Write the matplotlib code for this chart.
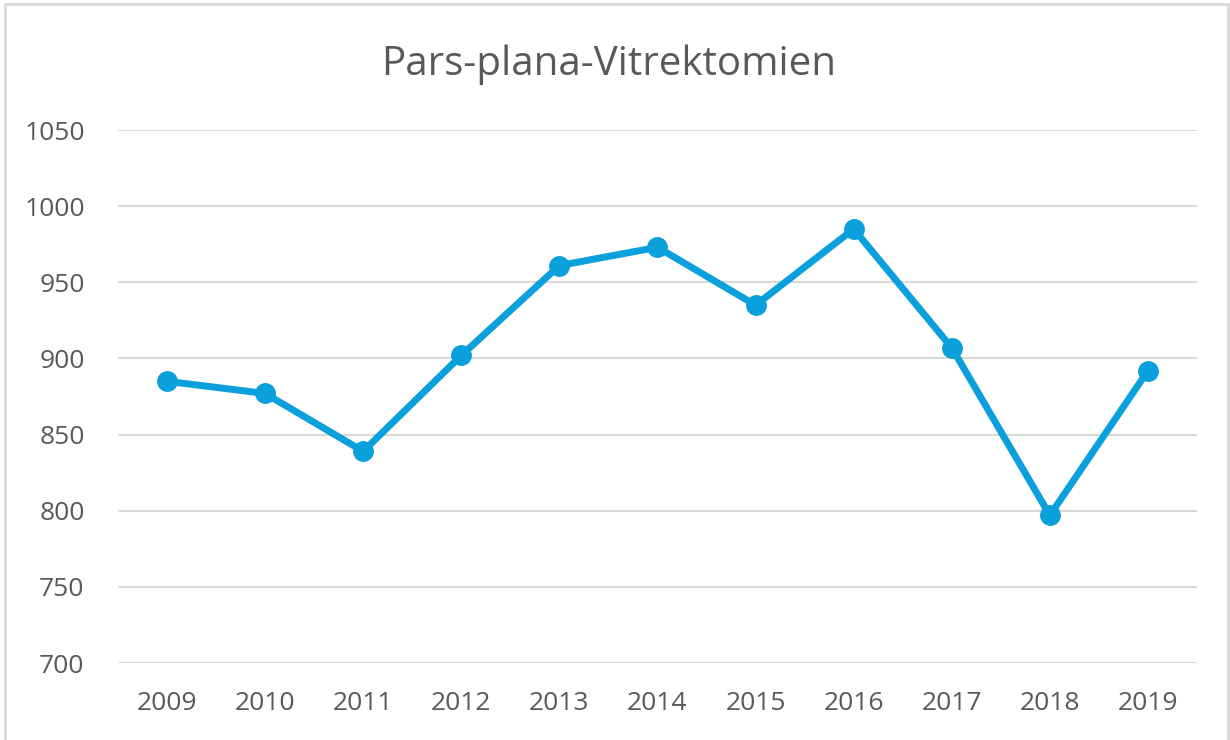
import matplotlib.pyplot as plt
from matplotlib.patches import Rectangle

plt.rcParams['font.family'] = ['Open Sans', 'DejaVu Sans']

years = ['2009', '2010', '2011', '2012', '2013', '2014', '2015', '2016', '2017', '2018', '2019']
counts = [885, 877, 839, 902, 961, 973, 935, 985, 907, 797, 892]
yticks = [700, 750, 800, 850, 900, 950, 1000, 1050]

fig = plt.figure(figsize=(12.3, 7.4), dpi=100)
ax = fig.add_axes([0.0959, 0.104, 0.8773, 0.7203])

x = range(len(years))
ax.plot(x, counts, color='#0AA0DC', lw=5, marker='o', ms=14,
        solid_capstyle='round', solid_joinstyle='round', zorder=3)

ax.set_xlim(-0.5, len(years) - 0.5)
ax.set_ylim(700, 1050)
ax.set_xticks(list(x))
ax.set_xticklabels(years)
ax.set_yticks(yticks)
ax.grid(axis='y', color='#D9D9D9', lw=1.5)
ax.set_axisbelow(True)
for s in ax.spines.values():
    s.set_visible(False)
ax.tick_params(length=0, labelsize=19, labelcolor='#595959')
ax.tick_params(axis='x', pad=20)
ax.tick_params(axis='y', pad=24)
for lab in ax.get_yticklabels():
    lab.set_horizontalalignment('right')

fig.text(0.495, 0.913, 'Pars-plana-Vitrektomien', ha='center', va='center',
         fontsize=29, color='#595959')

fig.patches.append(Rectangle((0.004, -0.05), 0.994, 1.044, transform=fig.transFigure,
                             fill=False, edgecolor='#D9D9D9', lw=2))

fig.savefig('out.png', dpi=100)
